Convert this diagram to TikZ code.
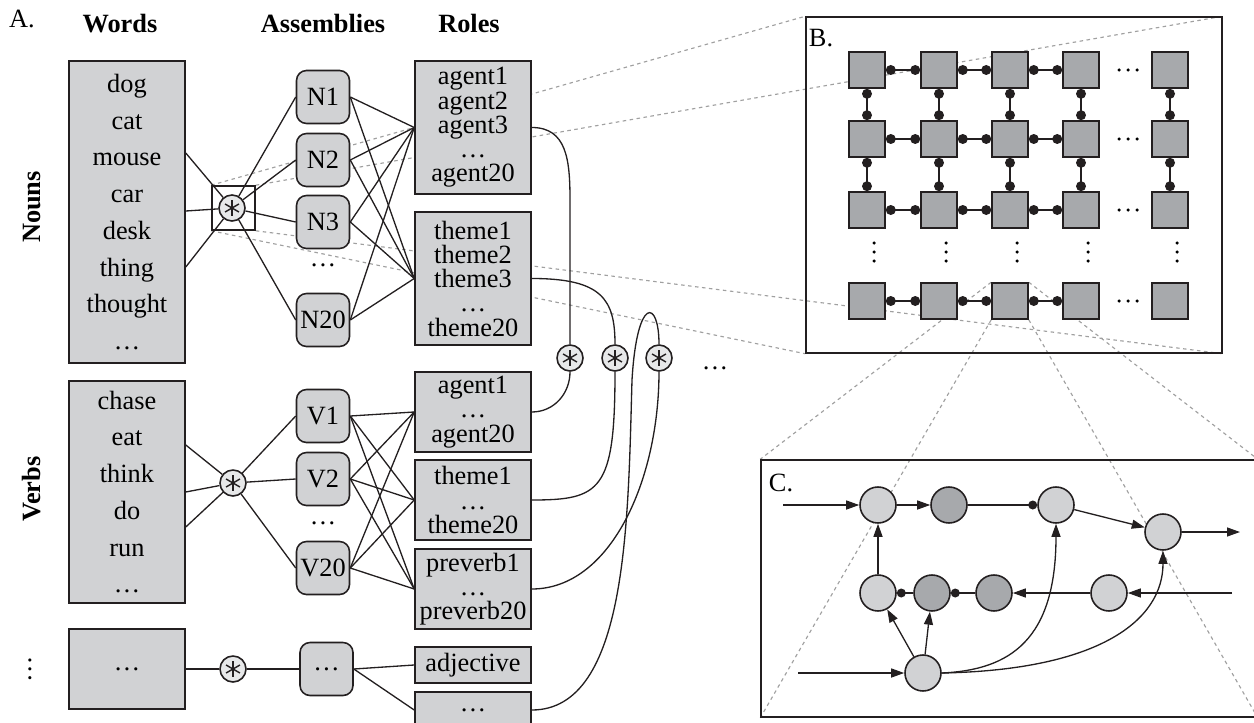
\documentclass[tikz,border=0pt]{standalone}
\usepackage{fontspec}
\setmainfont{Liberation Serif}
\usetikzlibrary{calc,arrows.meta,backgrounds}
\definecolor{boxgray}{RGB}{209,210,212}
\definecolor{unitgray}{RGB}{167,169,172}
\definecolor{convgray}{RGB}{231,232,233}
\definecolor{edgegray}{RGB}{35,31,32}
\definecolor{zoomgray}{RGB}{160,160,160}
\tikzset{
	wordbox/.style={draw=edgegray, fill=boxgray, line width=0.9pt, minimum width=2.32cm, align=center, inner sep=0pt, font=\fontsize{15}{20.9}\selectfont},
	asmbox/.style={draw=edgegray, fill=boxgray, line width=0.9pt, rounded corners=0.2cm, minimum size=1.06cm, inner sep=0pt},
	rolebox/.style={draw=edgegray, fill=boxgray, line width=0.9pt, minimum width=2.32cm, align=center, inner sep=0pt, font=\fontsize{15}{13.8}\selectfont},
	conv/.style={circle, draw=edgegray, fill=convgray, line width=0.9pt, minimum size=0.52cm, inner sep=0pt,
		path picture={\foreach \a in {90,30,150} \draw[line width=0.8pt] (path picture bounding box.center) +(\a:0.16cm) -- +(\a+180:0.16cm);}},
	unit/.style={draw=edgegray, fill=unitgray, line width=0.9pt, minimum size=0.72cm, inner sep=0pt},
	cell/.style={circle, draw=edgegray, fill=boxgray, line width=0.9pt, minimum size=0.72cm, inner sep=0pt},
	celldark/.style={cell, fill=unitgray},
	panel/.style={draw=edgegray, line width=0.9pt, inner sep=0pt},
	zoomline/.style={zoomgray, dash pattern=on 2pt off 2pt, line width=0.65pt},
	link/.style={edgegray, line width=0.75pt},
	fire/.style={link, -{Triangle[length=0.26cm,width=0.18cm]}},
}

\begin{document}
\fontsize{15}{17}\selectfont
\begin{tikzpicture}[x=0.02cm, y=-0.02cm]
	%%%%% START %%%%%
	\useasboundingbox (0,0) rectangle (1254,723);
	
	% panel A: headings
	\node[anchor=base] (lblA) at (22,28) {A.};
	\node[anchor=base, font=\bfseries] (hWords) at (120,33) {Words};
	\node[anchor=base, font=\bfseries] (hAsm) at (323,33) {Assemblies};
	\node[anchor=base, font=\bfseries] (hRoles) at (469,33) {Roles};
	\node[rotate=90, font=\bfseries] (lNouns) at (32,207) {Nouns};
	\node[rotate=90, font=\bfseries] (lVerbs) at (32,489) {Verbs};
	\node[rotate=90] (lMore) at (30,669) {\dots};
	
	% words
	\node[wordbox, minimum height=6.04cm] (wN) at (127,212) {dog\\cat\\mouse\\car\\desk\\thing\\thought\\\dots};
	\node[wordbox, minimum height=4.44cm] (wV) at (127,492) {chase\\eat\\think\\do\\run\\\dots};
	\node[wordbox, minimum height=1.6cm] (wO) at (127,669) {\dots};
	
	% binding with assemblies
	\node[panel, minimum width=0.86cm, minimum height=0.88cm] (zoomN) at (233.5,208) {};
	\node[conv] (sN) at (232,208) {};
	\node[conv] (sV) at (233,483) {};
	\node[conv] (sO) at (233,669) {};
	
	\node[asmbox] (N1) at (323,97) {N1};
	\node[asmbox] (N2) at (323,160) {N2};
	\node[asmbox] (N3) at (323,222) {N3};
	\node (dN) at (323,265) {\dots};
	\node[asmbox] (N20) at (323,320) {N20};
	\node[asmbox] (V1) at (323,416) {V1};
	\node[asmbox] (V2) at (323,479) {V2};
	\node (dV) at (323,523) {\dots};
	\node[asmbox] (V20) at (323,568) {V20};
	\node[asmbox] (aO) at (326.5,669) {\dots};
	
	% roles
	\node[rolebox, minimum height=2.66cm] (agN) at (473,127.5) {agent1\\agent2\\agent3\\\dots\\agent20};
	\node[rolebox, minimum height=2.66cm] (thN) at (473,278.5) {theme1\\theme2\\theme3\\\dots\\theme20};
	\node[rolebox, minimum height=1.6cm] (agV) at (473,412) {agent1\\\dots\\agent20};
	\node[rolebox, minimum height=1.6cm] (thV) at (473,500) {theme1\\\dots\\theme20};
	\node[rolebox, minimum height=1.6cm] (pvV) at (473,589) {preverb1\\\dots\\preverb20};
	\node[rolebox, minimum height=0.72cm] (adj) at (473,665) {adjective};
	\node[rolebox, minimum height=0.72cm] (rO) at (473,710) {\dots};
	
	\node[conv] (b1) at (570,358) {};
	\node[conv] (b2) at (615,358) {};
	\node[conv] (b3) at (659,358) {};
	\node (bMore) at (715,368) {\dots};
	
	\foreach \dy in {-59,-1,55} \draw[link] ($(wN.east)+(0,\dy)$) -- (sN);
	\foreach \dy in {-47,0,35} \draw[link] ($(wV.east)+(0,\dy)$) -- (sV);
	\draw[link] (wO.east) -- (sO);
	\foreach \n in {N1,N2,N3,N20} \draw[link] (sN) -- (\n.west);
	\foreach \n in {V1,V2,V20} \draw[link] (sV) -- (\n.west);
	\draw[link] (sO) -- (aO.west);
	
	\foreach \n in {N1,N2,N3,N20} {
		\draw[link] (\n.east) -- (agN.west);
		\draw[link] (\n.east) -- (thN.west);
	}
	\foreach \n in {V1,V2,V20} \foreach \r in {agV,thV,pvV} \draw[link] (\n.east) -- (\r.west);
	\draw[link] (aO.east) -- (adj.west);
	\draw[link] (aO.east) -- (rO.west);
	
	\draw[link] (agN.east) .. controls +(35,0) and +(0,-40) .. (570,200) -- (b1.north);
	\draw[link] (thN.east) .. controls +(70,0) and +(0,-45) .. (b2.north);
	\draw[link] (b3.north) .. controls +(0,-45) and (637,295) .. (632,380) .. controls (628,520) and (628,710) .. (rO.east);
	\draw[link] (b1.south) .. controls +(0,22) and +(22,0) .. (agV.east);
	\draw[link] (b2.south) .. controls +(0,119) and +(69,0) .. (thV.east);
	\draw[link] (b3.south) .. controls +(0,108) and +(79,0) .. (pvV.east);
	
	% panel B
	\node[panel, minimum width=8.32cm, minimum height=6.72cm] (panelB) at (1014,185) {};
	\node (lblB) at (821,38) {B.};
	\foreach \c/\x in {1/867,2/939,3/1010,4/1081,5/1170}
		\foreach \r/\y in {1/70,2/139,3/210,4/301}
			\node[unit] (u-\r-\c) at (\x,\y) {};
	\foreach \r in {1,...,4} \foreach \c/\d in {1/2,2/3,3/4} {
		\draw[link] (u-\r-\c.east) -- (u-\r-\d.west);
		\fill[edgegray] ([xshift=0.1cm]u-\r-\c.east) circle (0.1cm);
		\fill[edgegray] ([xshift=-0.1cm]u-\r-\d.west) circle (0.1cm);
	}
	\foreach \c in {1,...,5} \foreach \r/\s in {1/2,2/3} {
		\draw[link] (u-\r-\c.south) -- (u-\s-\c.north);
		\fill[edgegray] ([yshift=-0.1cm]u-\r-\c.south) circle (0.1cm);
		\fill[edgegray] ([yshift=0.1cm]u-\s-\c.north) circle (0.1cm);
	}
	\foreach \y in {70,139,210,301} \foreach \x in {1119,1128,1137} \fill (\x,\y) circle (0.035cm);
	\foreach \x in {874,946,1017,1088,1177} \foreach \y in {243,252,261} \fill (\x,\y) circle (0.035cm);
	
	% panel C
	\node[panel, minimum width=9.92cm, minimum height=5.14cm] (panelC) at (1009,588.5) {};
	\node (lblC) at (781,483) {C.};
	\node[cell] (c1) at (878,505) {};
	\node[celldark] (c2) at (949,505) {};
	\node[cell] (c3) at (1056,505) {};
	\node[cell] (c4) at (1163,532) {};
	\node[cell] (c5) at (878,593) {};
	\node[celldark] (c6) at (932,593) {};
	\node[celldark] (c7) at (994,593) {};
	\node[cell] (c8) at (1109,593) {};
	\node[cell] (c9) at (923,673) {};
	\coordinate (in1) at (783,505);
	\coordinate (in2) at (1232,593);
	\coordinate (in3) at (798,673);
	\coordinate (out1) at (1240,532);
	
	\draw[fire] (in1) -- (c1);
	\draw[fire] (c1) -- (c2);
	\draw[link] (c2) -- (c3);
	\fill[edgegray] ([xshift=-0.09cm]c3.west) circle (0.09cm);
	\draw[fire] (c3) -- (c4);
	\draw[fire] (c4) -- (out1);
	\draw[fire] (c5) -- (c1);
	\draw[link] (c5) -- (c6);
	\fill[edgegray] ([xshift=0.09cm]c5.east) circle (0.09cm);
	\draw[link] (c6) -- (c7);
	\fill[edgegray] ([xshift=0.09cm]c6.east) circle (0.09cm);
	\draw[fire] (c8) -- (c7);
	\draw[fire] (in2) -- (c8);
	\draw[fire] (in3) -- (c9);
	\draw[fire] (c9) -- (c5);
	\draw[fire] (c9) -- (c6);
	\draw[fire] (c9.east) .. controls (1010,670) and (1056,640) .. (c3.south);
	\draw[fire] (c9.east) .. controls (1100,670) and (1163,620) .. (c4.south);
	
	% zoom lines
	\begin{pgfonlayer}{background}
		\draw[zoomline] (zoomN.north west) -- (panelB.north west);
		\draw[zoomline] (zoomN.north east) -- (panelB.north east);
		\draw[zoomline] (zoomN.south west) -- (panelB.south west);
		\draw[zoomline] (zoomN.south east) -- (panelB.south east);
		\draw[zoomline] (u-4-3.north west) -- (panelC.north west);
		\draw[zoomline] (u-4-3.south west) -- (panelC.south west);
		\draw[zoomline] (u-4-3.north east) -- (panelC.north east);
		\draw[zoomline] (u-4-3.south east) -- (panelC.south east);
	\end{pgfonlayer}
	
	%%%%% END %%%%%
\end{tikzpicture}
\end{document}
